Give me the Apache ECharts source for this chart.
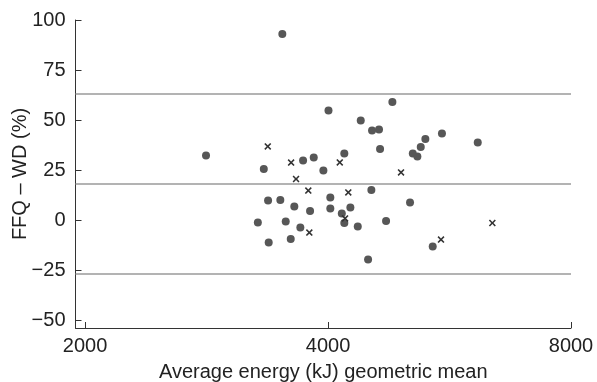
<!DOCTYPE html>
<html>
<head>
<meta charset="utf-8">
<script src="https://cdn.jsdelivr.net/npm/echarts@6/dist/echarts.min.js"></script>
<style>html,body{margin:0;padding:0;background:#fff;}#c{width:597px;height:382px;}</style>
</head>
<body>
<div id="c"></div>
<script>
// Circles (one group)
var circleEnergy = [3511,4005,4806,4391,4535,4626,4640,2824,3725,3840,4190,3330,3947,4526,3371,3491,3633,3800,4026,4026,4160,4263,4190,4354,3274,3545,3696,3377,3596,4484,5094,5161,5211,5280,5536,6131,5054,4720,5392];
var circleDiff   = [93,54.7,59,49.8,44.7,45.3,35.5,32.3,29.7,31.2,33.3,25.5,24.7,15,9.7,10,6.7,4.5,11.3,5.8,3.2,6.2,-1.5,-3.3,-1.3,-0.8,-3.7,-11.3,-9.5,-19.8,33.2,31.7,36.5,40.5,43.2,38.8,8.8,-0.5,-13.3];
// Crosses (other group)
var crossEnergy = [3368,3600,4136,3651,3781,4238,4199,3792,4926,6392,5521];
var crossDiff   = [36.8,28.7,28.8,20.5,14.7,13.8,0.8,-6.3,23.8,-1.5,-9.8];
// Bland-Altman lines
var meanDiff = 18.2, upperLoA = 63, lowerLoA = -26.7;
var xTicks = [2000,4000,8000];
var yTicks = [-50,-25,0,25,50,75,100];

function pairs(a,b){var n=Math.min(a.length,b.length),r=[];for(var i=0;i<n;i++)r.push([a[i],b[i]]);return r;}
var FONT = '"Liberation Sans", Arial, sans-serif';
var chart = echarts.init(document.getElementById('c'), null, {renderer:'canvas'});
var crossPath = 'path://M0,1.6L1.6,0L5,3.4L8.4,0L10,1.6L6.6,5L10,8.4L8.4,10L5,6.6L1.6,10L0,8.4L3.4,5Z';
chart.setOption({
  animation:false,
  backgroundColor:'#fff',
  grid:{left:75.5,right:26,top:20,bottom:54,containLabel:false,outerBoundsMode:'none'},
  xAxis:{
    type:'log', logBase:2, min:1946, max:8000,
    name:'Average energy (kJ) geometric mean', nameLocation:'middle', nameGap:34, nameMoveOverlap:false,
    nameTextStyle:{fontFamily:FONT,fontSize:20,color:'#222'},
    axisLine:{onZero:false,lineStyle:{color:'#333',width:1}},
    axisTick:{inside:true,length:6,customValues:xTicks,lineStyle:{color:'#333'}},
    minorTick:{show:false},
    axisLabel:{customValues:xTicks,fontFamily:FONT,fontSize:20,color:'#222',margin:8,
      formatter:function(v){return String(Math.round(v));}},
    splitLine:{show:false}
  },
  yAxis:{
    type:'value', min:-54, max:100,
    name:'FFQ \u2013 WD (%)', nameLocation:'middle', nameGap:45, nameRotate:90, nameMoveOverlap:false,
    nameTextStyle:{fontFamily:FONT,fontSize:20,color:'#222'},
    axisLine:{show:true,onZero:false,lineStyle:{color:'#333',width:1}},
    axisTick:{show:true,inside:true,length:6,customValues:yTicks,lineStyle:{color:'#333'}},
    axisLabel:{customValues:yTicks,fontFamily:FONT,fontSize:20,color:'#222',margin:10,
      formatter:function(v){return v<0?'\u2212'+Math.abs(v):String(v);}},
    splitLine:{show:false}
  },
  series:[
    {type:'scatter',data:pairs(circleEnergy,circleDiff),symbol:'circle',symbolSize:8,
     itemStyle:{color:'#575757',opacity:1},z:3,
     markLine:{silent:true,symbol:'none',label:{show:false},
       lineStyle:{color:'#9a9a9a',width:1.6,type:'solid'},
       data:[{yAxis:upperLoA},{yAxis:meanDiff},{yAxis:lowerLoA}]}},
    {type:'scatter',data:pairs(crossEnergy,crossDiff),symbol:crossPath,symbolSize:7,
     itemStyle:{color:'#333',opacity:1},z:4}
  ]
});
</script>
</body>
</html>
